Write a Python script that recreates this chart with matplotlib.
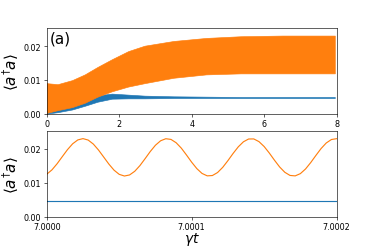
import numpy as np
import matplotlib.pyplot as plt

# top panel: envelopes of the fast oscillations
t_env = [0.0, 0.3, 0.7, 1.05, 1.4, 1.8, 2.25, 2.7, 3.5, 4.4, 5.35, 6.5, 7.95]
orange_hi = [0.0090, 0.0087, 0.0099, 0.0116, 0.0138, 0.0161, 0.0185, 0.0201,
             0.0215, 0.0224, 0.0229, 0.0231, 0.0231]
orange_lo = [0.0002, 0.0010, 0.0019, 0.0032, 0.0050, 0.0066, 0.0080, 0.0090,
             0.0106, 0.0116, 0.0119, 0.0119, 0.0119]
blue_hi = [0.0008, 0.0016, 0.0028, 0.0041, 0.0054, 0.0059, 0.0056, 0.0053,
           0.0051, 0.0050, 0.0049, 0.0049, 0.0049]
blue_lo = [0.0000, 0.0004, 0.0012, 0.0023, 0.0035, 0.0044, 0.0045, 0.0045,
           0.0046, 0.0046, 0.0046, 0.0046, 0.0046]

# bottom panel: zoom on a short window
t_zoom_start, t_zoom_end = 7.0, 7.0002
orange_zoom = [0.01254, 0.01381, 0.01562, 0.01770, 0.01975, 0.02148, 0.02262, 0.02300,
               0.02258, 0.02140, 0.01965, 0.01759, 0.01552, 0.01373, 0.01250, 0.01201,
               0.01232, 0.01340, 0.01507, 0.01711, 0.01921, 0.02106, 0.02237, 0.02297,
               0.02277, 0.02179, 0.02020, 0.01818, 0.01607, 0.01418, 0.01277, 0.01206,
               0.01215, 0.01303, 0.01456, 0.01653, 0.01864, 0.02058, 0.02207, 0.02289,
               0.02291, 0.02212, 0.02068, 0.01876, 0.01665, 0.01466, 0.01310, 0.01218,
               0.01205, 0.01271, 0.01408, 0.01596, 0.01806, 0.02008, 0.02172, 0.02274,
               0.02298]
blue_zoom = [0.0047, 0.0047]
zoom_ticks = [7.0, 7.0001, 7.0002]
zoom_ticklabels = ["7.0000", "7.0001", "7.0002"]
top_ticks = [0, 2, 4, 6, 8]
y_ticks = [0.00, 0.01, 0.02]

fig, (ax1, ax2) = plt.subplots(2, 1, figsize=(6.8, 4.527), dpi=55)
fig.subplots_adjust(left=0.125, right=0.9, top=0.883, bottom=0.125, hspace=0.21)

ylabel = r'$\langle a^{\dagger}a\rangle$'

ax1.fill_between(t_env, blue_lo, blue_hi, color='C0', lw=0.8)
ax1.fill_between(t_env, orange_lo, orange_hi, color='C1', lw=0.8)
ax1.set_xlim(0, 8)
ax1.set_ylim(0, 0.0253)
ax1.set_xticks(top_ticks)
ax1.set_yticks(y_ticks)
ax1.tick_params(labelsize=10.5)
ax1.set_ylabel(ylabel, fontsize=20, labelpad=3)
ax1.text(0.01, 0.97, "(a)", transform=ax1.transAxes, fontsize=20, va='top')

x_zoom = np.linspace(t_zoom_start, t_zoom_end, len(orange_zoom))
ax2.plot([t_zoom_start, t_zoom_end], blue_zoom, color='C0')
ax2.plot(x_zoom, orange_zoom, color='C1')
ax2.set_xlim(t_zoom_start, t_zoom_end)
ax2.set_ylim(0, 0.0251)
ax2.set_xticks(zoom_ticks)
ax2.set_xticklabels(zoom_ticklabels)
ax2.set_yticks(y_ticks)
ax2.tick_params(labelsize=10.5)
ax2.set_ylabel(ylabel, fontsize=20, labelpad=3)
ax2.set_xlabel(r'$\gamma t$', fontsize=18, labelpad=-2)

fig.savefig("out.png", dpi=55)
